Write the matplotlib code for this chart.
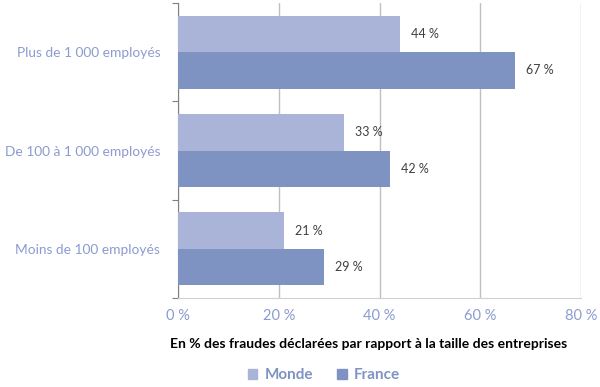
import numpy as np
import matplotlib.pyplot as plt
from matplotlib.patches import Patch

categories = ['Moins de 100 employés', 'De 100 à 1 000 employés', 'Plus de 1 000 employés']
monde = [21, 33, 44]
france = [29, 42, 67]
xticks = [0, 20, 40, 60, 80]

c_monde = '#aab4d8'
c_france = '#7f93c3'
c_tick = '#8b9bd0'

plt.rcParams['font.family'] = ['Lato', 'DejaVu Sans']

fig = plt.figure(figsize=(6, 3.87), dpi=100)
ax = fig.add_axes([0.297, 0.23, 0.671, 0.762])

y = np.arange(len(categories))
h = 0.37
ax.barh(y + h / 2, monde, height=h, color=c_monde, zorder=3)
ax.barh(y - h / 2, france, height=h, color=c_france, zorder=3)

for yi, v in zip(y, monde):
    ax.text(v + 2.2, yi + h / 2, '%d %%' % v, va='center', ha='left', fontsize=9, color='#404040')
for yi, v in zip(y, france):
    ax.text(v + 2.2, yi - h / 2, '%d %%' % v, va='center', ha='left', fontsize=9, color='#404040')

ax.set_xlim(0, 80)
ax.set_ylim(-0.5, 2.5)
ax.set_xticks(xticks)
ax.set_xticklabels(['%d %%' % t for t in xticks], color=c_tick, fontsize=10.5)
ax.set_yticks([-0.5, 0.5, 1.5, 2.5])
ax.set_yticklabels([])
ax.set_yticks(y, minor=True)
ax.set_yticklabels(categories, minor=True, color=c_tick, fontsize=9.9)
ax.tick_params(axis='y', which='minor', length=0, pad=13)
ax.tick_params(axis='y', which='major', length=4, color='#808080')
ax.tick_params(axis='x', length=0, pad=8)

ax.grid(axis='x', color='#c0c0c0', linewidth=1, zorder=0)
for s in ['top', 'right']:
    ax.spines[s].set_visible(False)
ax.spines['left'].set_color('#808080')
ax.spines['bottom'].set_color('#d0d0d0')

ax.set_xlabel('En % des fraudes déclarées par rapport à la taille des entreprises',
              fontsize=10, fontweight='bold', color='black')
ax.xaxis.set_label_coords(0.472, -0.135)

handles = [Patch(color=c_monde, label='Monde'), Patch(color=c_france, label='France')]
leg = fig.legend(handles=handles, loc='center', bbox_to_anchor=(0.54, 0.03), ncol=2,
                 frameon=False, handlelength=0.6, handleheight=0.6, columnspacing=1.6,
                 handletextpad=0.5, prop={'weight': 'bold', 'size': 11})
for t in leg.get_texts():
    t.set_color(c_france)

fig.savefig('out.png', dpi=100)
